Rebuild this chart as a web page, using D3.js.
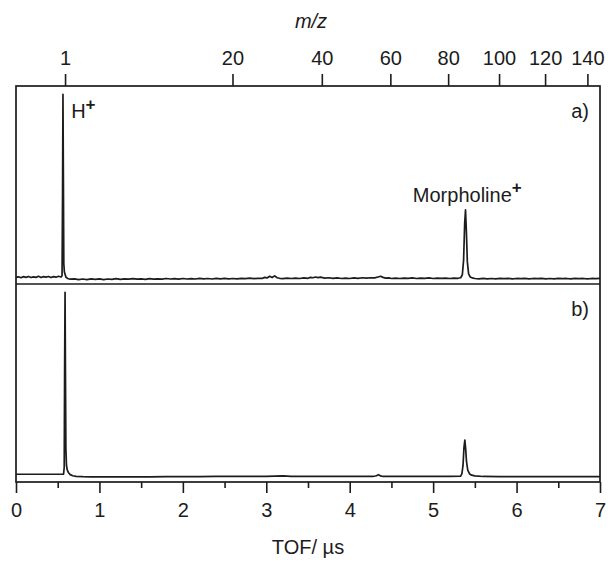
<!DOCTYPE html>
<html><head><meta charset="utf-8">
<script src="https://cdn.jsdelivr.net/npm/d3@7"></script>
<style>html,body{margin:0;padding:0;background:#fff}svg{display:block}</style>
</head><body>
<svg id="c" width="608" height="563"></svg>
<script>
// ---- data ----
const tofTicks = [0,1,2,3,4,5,6,7];
const tofMinor = [0.5,1.5,2.5,3.5,4.5,5.5,6.5];
const mzTicks = [1,20,40,60,80,100,120,140];
const calib = [0.578, 0.01]; // TOF = a*sqrt(m/z) + b

const tofA = [0.00,0.03,0.06,0.09,0.12,0.15,0.18,0.21,0.24,0.27,0.30,0.33,0.36,0.39,0.42,0.45,0.48,0.51,0.54,
0.552,0.558,0.563,0.568,0.573,0.58,0.59,0.60,0.62,
0.65,0.70,0.75,0.80,0.85,0.90,0.95,1.00,1.05,1.10,1.15,1.20,1.25,1.30,1.35,1.40,1.45,1.50,1.55,1.60,1.65,1.70,1.75,1.80,1.85,1.90,1.95,
2.00,2.05,2.10,2.15,2.20,2.25,2.30,2.35,2.40,2.45,2.50,2.55,2.60,2.65,2.70,2.75,2.80,2.85,2.90,
2.95,2.98,3.01,3.04,3.07,3.10,3.13,3.16,3.20,3.25,3.30,3.35,3.40,3.45,3.50,3.53,3.56,3.59,3.62,3.65,3.70,3.75,3.80,3.85,3.90,3.95,
4.00,4.05,4.10,4.15,4.20,4.25,4.30,4.34,4.37,4.40,4.43,4.47,4.50,4.55,4.60,4.65,4.70,4.75,4.80,4.85,4.90,4.95,
5.00,5.05,5.10,5.15,5.20,5.25,5.30,5.33,5.35,5.365,5.378,5.388,5.398,5.41,5.425,5.445,5.47,5.50,5.55,5.60,5.65,5.70,5.75,5.80,5.85,5.90,5.95,
6.00,6.05,6.10,6.15,6.20,6.25,6.30,6.35,6.40,6.45,6.50,6.55,6.60,6.65,6.70,6.75,6.80,6.85,6.90,6.95,7.00];
const intA = [0.006,0.009,0.004,0.010,0.006,0.011,0.005,0.009,0.006,0.012,0.005,0.010,0.007,0.011,0.005,0.010,0.007,0.012,0.008,
0.015,0.45,1.0,0.55,0.08,0.035,0.02,0.006,0.000,
-0.004,-0.002,-0.006,-0.003,-0.006,-0.002,-0.005,-0.002,-0.006,-0.003,-0.005,-0.001,-0.005,-0.002,-0.004,-0.001,-0.004,-0.002,-0.005,-0.001,-0.004,-0.002,-0.004,0.000,-0.003,-0.001,-0.004,
0.000,-0.003,-0.001,-0.003,0.001,-0.002,0.000,-0.003,0.001,-0.002,0.001,-0.002,0.000,-0.002,0.001,-0.001,0.002,-0.001,0.001,
0.000,0.006,0.003,0.012,0.005,0.014,0.004,0.001,-0.001,0.002,0.000,0.002,0.000,0.003,0.001,0.006,0.004,0.008,0.005,0.007,0.002,0.004,0.001,0.003,0.000,0.002,
0.000,0.003,0.001,0.004,0.002,0.004,0.003,0.008,0.012,0.006,0.002,0.003,0.000,0.002,0.000,0.002,0.001,0.003,0.000,0.002,0.001,0.003,
0.000,0.002,0.001,0.002,0.000,0.002,0.001,0.004,0.02,0.10,0.30,0.372,0.26,0.09,0.025,0.008,0.003,0.000,-0.002,0.001,-0.002,0.000,-0.002,0.001,-0.001,0.001,-0.002,
0.000,-0.001,0.001,-0.002,0.000,-0.001,0.001,-0.002,0.000,-0.002,0.001,-0.001,0.000,-0.002,0.001,-0.001,0.000,-0.002,0.000,-0.001,0.000];

const tofB = [0.00,0.10,0.20,0.30,0.40,0.50,0.57,0.578,0.583,0.588,0.593,0.598,0.605,0.615,0.63,0.65,0.68,0.72,0.80,0.90,
1.00,1.20,1.40,1.60,1.80,2.00,2.20,2.40,2.60,2.80,3.00,3.10,3.20,3.30,3.50,3.70,3.90,4.10,4.28,4.32,4.345,4.37,4.40,4.60,4.80,
5.00,5.20,5.33,5.345,5.358,5.37,5.38,5.39,5.40,5.415,5.435,5.46,5.50,5.60,5.80,6.00,6.20,6.40,6.60,6.80,7.00];
const intB = [0.012,0.012,0.012,0.012,0.012,0.012,0.013,0.05,0.6,1.0,0.55,0.15,0.06,0.035,0.02,0.010,0.004,0.001,-0.001,-0.002,
-0.002,-0.002,-0.002,-0.002,-0.001,-0.001,-0.001,0.000,0.000,0.000,0.001,0.002,0.003,0.001,0.000,0.000,0.000,0.000,0.000,0.004,0.010,0.003,0.000,0.000,0.000,
0.000,0.000,0.002,0.015,0.06,0.16,0.198,0.15,0.08,0.035,0.015,0.007,0.003,0.000,-0.001,-0.001,-0.001,-0.001,-0.001,-0.001,-0.001];

// ---- drawing ----
const ink = "#1c1c1c";
const font = "'Liberation Sans', Arial, sans-serif";
const svg = d3.select("#c");
const L = 16, R = 600, T = 86, M = 284, B = 482;
const x = d3.scaleLinear().domain([0,7]).range([L,R]);
const yA = d3.scaleLinear().domain([-0.03,1.045]).range([M,T]);
const yB = d3.scaleLinear().domain([-0.03,1.045]).range([B,M]);
const mz = d3.scaleSqrt().domain([0,140])
  .range([x(calib[1]), x(calib[0]*Math.sqrt(140)+calib[1])]);

function trace(tofs, ints, y) {
  const pts = tofs.map((t,i)=>[t, ints[i]]);
  svg.append("path").datum(pts)
    .attr("fill","none").attr("stroke",ink).attr("stroke-width",1.7)
    .attr("stroke-linejoin","round")
    .attr("d", d3.line().x(d=>x(d[0])).y(d=>y(d[1])));
}
trace(tofA, intA, yA);
trace(tofB, intB, yB);

// frames
svg.append("rect").attr("x",L).attr("y",T).attr("width",R-L).attr("height",B-T)
  .attr("fill","none").attr("stroke",ink).attr("stroke-width",1.7);
svg.append("line").attr("x1",L).attr("x2",R).attr("y1",M).attr("y2",M)
  .attr("stroke",ink).attr("stroke-width",1.7);

function styleAxis(g){
  g.select(".domain").remove();
  g.selectAll("line").attr("stroke",ink).attr("stroke-width",1.6);
  g.selectAll("text").attr("fill",ink).style("font-family",font).style("font-size","20px");
}
// bottom axis
svg.append("g").attr("transform",`translate(0,${B})`)
  .call(d3.axisBottom(x).tickValues(tofTicks).tickFormat(d3.format("d")).tickSize(11).tickPadding(10))
  .call(styleAxis);
svg.append("g").attr("transform",`translate(0,${B})`)
  .call(d3.axisBottom(x).tickValues(tofMinor).tickFormat("").tickSize(6))
  .call(styleAxis);
// top axis
svg.append("g").attr("transform",`translate(0,${T})`)
  .call(d3.axisTop(mz).tickValues(mzTicks).tickFormat(d3.format("d")).tickSize(12).tickPadding(9))
  .call(styleAxis);

// titles
svg.append("text").attr("x",308).attr("y",554).attr("text-anchor","middle")
  .style("font-family",font).style("font-size","20px").attr("fill",ink).text("TOF/ µs");
svg.append("text").attr("x",311).attr("y",28).attr("text-anchor","middle")
  .style("font-family",font).style("font-size","20px").style("font-style","italic").attr("fill",ink).text("m/z");

// annotations
const h = svg.append("text").attr("x",x(0.565)+8).attr("y",118)
  .style("font-family",font).style("font-size","20px").attr("fill",ink);
h.append("tspan").text("H");
h.append("tspan").attr("dy",-8).style("font-size","17px").style("font-weight","bold").text("+");

const mo = svg.append("text").attr("x",x(5.385)+2).attr("y",202).attr("text-anchor","middle")
  .style("font-family",font).style("font-size","20px").attr("fill",ink);
mo.append("tspan").text("Morpholine");
mo.append("tspan").attr("dy",-9).style("font-size","17px").style("font-weight","bold").text("+");

svg.append("text").attr("x",589).attr("y",118).attr("text-anchor","end")
  .style("font-family",font).style("font-size","20px").attr("fill",ink).text("a)");
svg.append("text").attr("x",589).attr("y",316).attr("text-anchor","end")
  .style("font-family",font).style("font-size","20px").attr("fill",ink).text("b)");
</script>
</body></html>
